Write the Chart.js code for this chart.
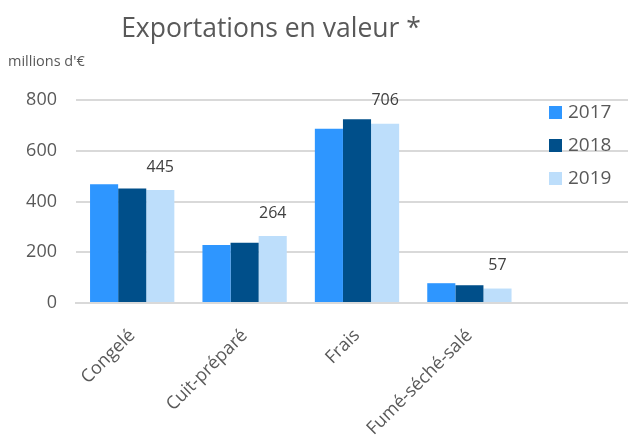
<!DOCTYPE html>
<html>
<head>
<meta charset="utf-8">
<script src="https://cdn.jsdelivr.net/npm/chart.js@4"></script>
<style>
	html, body { margin: 0; padding: 0; background: #fff; overflow: hidden; }
	#wrap { width: 640px; height: 448px; }
</style>
</head>
<body>
<div id="wrap"><canvas id="chart" width="640" height="448"></canvas></div>
<script>
var FONT = "'Open Sans', sans-serif";

var categories = ["Congelé", "Cuit-préparé", "Frais", "Fumé-séché-salé"];
var years = ["2017", "2018", "2019"];
var values2017 = [468, 229, 687, 78];
var values2018 = [451, 237, 724, 70];
var values2019 = [445, 264, 706, 57];
var colors = ["#2E96FF", "#004F8A", "#BDDEFB"];
var yTicks = [0, 200, 400, 600, 800];

//the original plot keeps room for one more (empty) category on the right
var labels = categories.concat([""]);

var textPlugin = {
	id: "texts",
	afterDatasetsDraw: function(chart) {
		var ctx = chart.ctx;
		ctx.save();

		//title + unit
		ctx.fillStyle = "#595959";
		ctx.textAlign = "center";
		ctx.textBaseline = "middle";
		ctx.font = "26.5px " + FONT;
		ctx.fillText("Exportations en valeur *", 271, 29);
		ctx.textAlign = "left";
		ctx.font = "14.5px " + FONT;
		ctx.fillText("millions d'€", 8, 62);

		//values above the last year only
		var meta = chart.getDatasetMeta(2);
		ctx.fillStyle = "#404040";
		ctx.textAlign = "center";
		ctx.font = "16px " + FONT;
		meta.data.forEach(function(bar, i) {
			ctx.fillText(values2019[i], bar.x, bar.y - 23);
		});

		//legend, drawn over the plot
		ctx.textAlign = "left";
		ctx.font = "19px " + FONT;
		chart.data.datasets.forEach(function(ds, i) {
			var y = 113 + i * 33;
			ctx.fillStyle = ds.backgroundColor;
			ctx.fillRect(549, y - 7, 13, 13);
			ctx.fillStyle = "#595959";
			ctx.fillText(ds.label, 568, y);
		});
		ctx.restore();
	}
};

var datasets = [];
var series = [values2017, values2018, values2019];
for (var i = 0; i < years.length; i++) {
	datasets.push({
		label: years[i],
		data: series[i],
		backgroundColor: colors[i],
		borderWidth: 0,
		categoryPercentage: 0.75,
		barPercentage: 1.0
	});
}

var myChart = new Chart(document.getElementById("chart").getContext("2d"), {
	type: "bar",
	data: {
		labels: labels,
		datasets: datasets
	},
	options: {
		responsive: false,
		animation: false,
		layout: { padding: { top: 100, right: 2, left: 0, bottom: 0 } },
		plugins: {
			legend: { display: false },
			title: { display: false },
			tooltip: { enabled: false }
		},
		scales: {
			x: {
				grid: { display: false },
				border: { color: "#d9d9d9", width: 2 },
				ticks: {
					color: "#595959",
					font: { family: FONT, size: 18 },
					maxRotation: 45,
					minRotation: 45,
					padding: 14
				},
				afterFit: function(scale) { scale.height = 145; }
			},
			y: {
				min: 0,
				max: 800,
				afterBuildTicks: function(scale) {
					scale.ticks = yTicks.map(function(v) { return { value: v }; });
				},
				grid: { color: "#d9d9d9", lineWidth: 2, drawTicks: false },
				border: { display: false },
				ticks: {
					color: "#595959",
					font: { family: FONT, size: 18 },
					padding: 19
				},
				afterFit: function(scale) { scale.width = 76; }
			}
		}
	},
	plugins: [textPlugin]
});
</script>
</body>
</html>
